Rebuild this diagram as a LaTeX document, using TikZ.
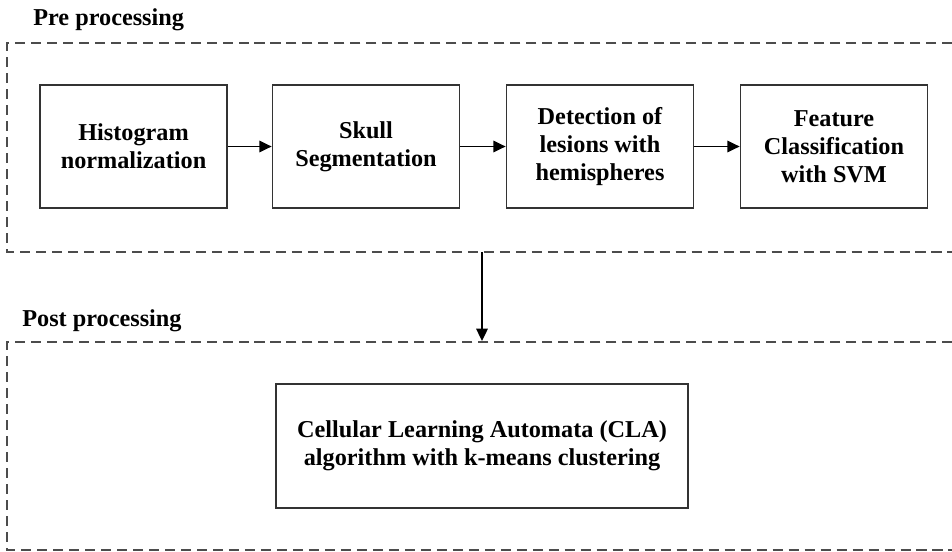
\documentclass[tikz,border=0pt]{standalone}
\usepackage{fontspec}
\setmainfont{Liberation Serif}
\usetikzlibrary{arrows.meta}
\begin{document}
\begin{tikzpicture}[x=0.02cm,y=-0.02cm,>={Triangle[length=7pt,width=6.5pt]},
  stage/.style={draw=black!80,line width=1pt,minimum width=3.74cm,minimum height=2.46cm,align=center,inner sep=2pt,font=\fontsize{13.8}{16}\selectfont\bfseries},
  frame line/.style={draw=black!70,line width=.85pt,dash pattern=on 5.7pt off 3.4pt},
  phase label/.style={anchor=base west,inner sep=0pt,font=\fontsize{13.8}{16}\selectfont\bfseries}]
\useasboundingbox (0,0) rectangle (952,551);
% frames, open on the right
\draw[frame line] (952,43) -- (7,43) -- (7,252) -- (952,252);
\draw[frame line] (952,342) -- (7,342) -- (7,550) -- (952,550);
\node[phase label] (prelabel) at (33,25){Pre processing};
\node[phase label] (postlabel) at (22,326){Post processing};
% stages
\node[stage] (hist) at (133.5,146.5){Histogram\\normalization};
\node[stage] (skull) at (366,146.5){Skull\\Segmentation};
\node[stage] (lesion) at (600,146.5){Detection of\\lesions with\\hemispheres};
\node[stage] (svm) at (834,146.5){Feature\\Classification\\with SVM};
\node[stage,minimum width=8.24cm,minimum height=2.48cm] (cla) at (482,446){Cellular Learning Automata (CLA)\\algorithm with k-means clustering};
\coordinate (preout) at (482,252);
\coordinate (postin) at (482,341);
\draw[->,line width=1.1pt] (hist) -- (skull);
\draw[->,line width=1.1pt] (skull) -- (lesion);
\draw[->,line width=1.1pt] (lesion) -- (svm);
\draw[->,line width=1.1pt] (preout) -- (postin);
\end{tikzpicture}
\end{document}
